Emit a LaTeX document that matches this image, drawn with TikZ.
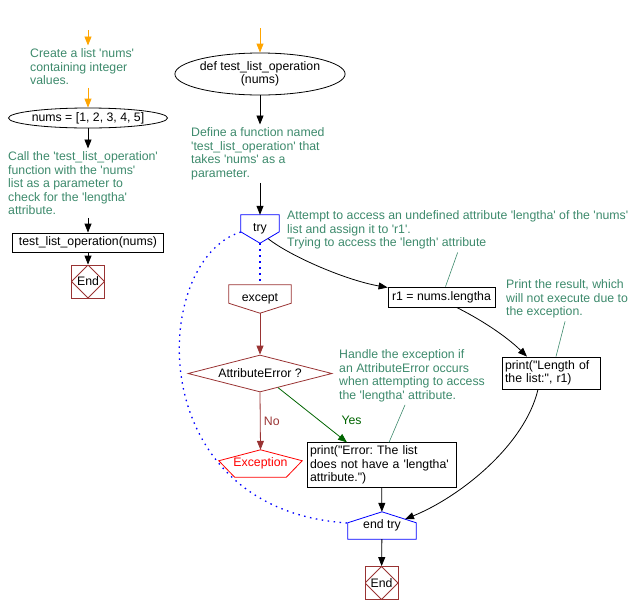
\documentclass[tikz,border=0pt]{standalone}
\usepackage{fontspec}
\setmainfont{Liberation Sans}[Ligatures=TeXOff]
\usepackage{xcolor}
\usepackage{tikz}
\usetikzlibrary{arrows.meta,shapes.geometric,calc}

\definecolor{notegreen}{RGB}{61,138,108}
\definecolor{darkred}{RGB}{153,51,51}
\definecolor{yesgreen}{RGB}{0,100,0}
\definecolor{startorange}{RGB}{255,165,0}
\definecolor{trublue}{RGB}{0,0,255}
\frenchspacing

\begin{document}
\begin{tikzpicture}[
    x=1pt, y=-1pt,
    every node/.style={font=\fontsize{12.3}{13.5}\selectfont},
    note/.style={text=notegreen, align=left, anchor=north west, inner sep=3pt},
    box/.style={draw, line width=0.8pt, align=left, inner sep=3pt},
    oval/.style={draw, ellipse, line width=0.8pt, inner sep=0pt, align=center},
    cond/.style={draw=darkred, line width=0.8pt, diamond, aspect=4, inner sep=1pt, minimum width=144pt, minimum height=37pt},
    endbox/.style={draw=darkred, line width=0.8pt, minimum size=33pt, inner sep=0pt,
        path picture={\draw[darkred, line width=0.8pt] (path picture bounding box.north) -- (path picture bounding box.east)
            -- (path picture bounding box.south) -- (path picture bounding box.west) -- cycle;}},
    pent/.style={inner sep=0pt},
    arr/.style={-{Triangle[length=9pt,width=7pt]}, line width=0.8pt},
    orarr/.style={arr, draw=startorange, fill=startorange},
    redarr/.style={arr, draw=darkred},
    yesarr/.style={arr, draw=yesgreen},
    dotflow/.style={draw=trublue, line width=1.3pt, dash pattern=on 1.5pt off 4.5pt},
    leader/.style={draw=notegreen, line width=0.6pt}
]
    \useasboundingbox (0,0) rectangle (638,614);

    % main program (left)
    \coordinate (lstart) at (88,30);
    \node[note] (lnote1) at (27,45.5) {Create a list 'nums'\\containing integer\\values.};
    \node[oval, minimum width=128pt, minimum height=20pt] (nums) at (88,118) {nums = [1, 2, 3, 4, 5]};
    \node[note] (lnote2) at (5,148.5) {Call the 'test\_list\_operation'\\function with the 'nums'\\list as a parameter to\\check for the 'lengtha'\\attribute.};
    \node[box, minimum width=151pt, minimum height=19pt, align=center] (call) at (88,242.5) {test\_list\_operation(nums)};
    \node[endbox] (lend) at (88,281.5) {End};

    \draw[orarr] (lstart) -- (lstart |- lnote1.north);
    \draw[orarr] (lstart |- lnote1.south) -- (nums);
    \draw[arr] (nums) -- (nums |- lnote2.north);
    \draw[arr] (nums |- lnote2.south) -- (call);
    \draw[arr] (call) -- (lend);

    % the function
    \coordinate (mstart) at (260,28);
    \node[oval, minimum width=144pt, minimum height=42pt] (def) at (260,74) {def test\_list\_operation\\(nums)};
    \node[note] (mnote) at (188,124.5) {Define a function named\\'test\_list\_operation' that\\takes 'nums' as a\\parameter.};

    % try / except blocks
    \node[pent, minimum width=38pt, minimum height=28pt] (try) at (260,229) {try};
    \draw[trublue, line width=0.8pt] (try.north west) -- (try.north east) -- ($(try.north east)!0.6!(try.south east)$)
        -- (try.south) -- ($(try.north west)!0.6!(try.south west)$) -- cycle;
    \node[note] (anote) at (284,207.5) {Attempt to access an undefined attribute 'lengtha' of the 'nums'\\list and assign it to 'r1'.\\Trying to access the 'length' attribute};
    \node[box, minimum width=107pt, minimum height=20pt] (r1) at (441.5,297) {r1 = nums.lengtha};
    \node[note] (pnote) at (503,276.5) {Print the result, which\\will not execute due to\\the exception.};
    \node[box, text width=92pt, minimum height=32pt] (print2) at (551,373) {print("Length of\\the list:", r1)};

    \node[pent, minimum width=62pt, minimum height=28pt] (except) at (260,299) {except};
    \draw[darkred, line width=0.8pt] (except.north west) -- (except.north east) -- ($(except.north east)!0.65!(except.south east)$)
        -- (except.south) -- ($(except.north west)!0.65!(except.south west)$) -- cycle;
    \node[cond] (attr) at (260,373.5) {AttributeError ?};
    \node[pent, minimum width=83pt, minimum height=27pt, text=red] (exc) at (260.5,463.5) {Exception};
    \draw[red, line width=0.8pt] (exc.north) -- ($(exc.north east)!0.4!(exc.south east)$) -- ($(exc.south east)!0.19!(exc.south west)$)
        -- ($(exc.south west)!0.19!(exc.south east)$) -- ($(exc.north west)!0.4!(exc.south west)$) -- cycle;
    \node[note] (hnote) at (336,346.5) {Handle the exception if\\an AttributeError occurs\\when attempting to access\\the 'lengtha' attribute.};
    \node[box, text width=143pt, minimum height=44pt] (print1) at (381.5,465) {print("Error: The list\\does not have a 'lengtha'\\attribute.")};

    \node[pent, minimum width=68pt, minimum height=27pt] (endtry) at (382,525.5) {\raisebox{-2.5pt}{end try}};
    \draw[trublue, line width=0.8pt] (endtry.north) -- ($(endtry.south east)!0.6!(endtry.north east)$) -- (endtry.south east)
        -- (endtry.south west) -- ($(endtry.south west)!0.6!(endtry.north west)$) -- cycle;
    \node[endbox] (rend) at (381.5,583) {End};

    % flow
    \draw[orarr] (mstart) -- (def);
    \draw[arr] (def) -- (def |- mnote.north);
    \draw[arr] (def |- mnote.south) -- (try.north);
    \draw[arr] ([xshift=8pt,yshift=4.6pt]try.south) .. controls (290,256) and (345,280) .. (r1.170);
    \draw[arr] ([xshift=15pt]r1.south) .. controls (478,318) and (505,335) .. ([xshift=-24pt]print2.north);
    \draw[arr] ([xshift=-13pt]print2.south) .. controls (525,445) and (460,497) .. ([xshift=23pt,yshift=-7.4pt]endtry.north);
    \draw[dotflow] (try.south) -- (except.north);
    \draw[dotflow] ([yshift=-3pt]try.west) .. controls (150,260) and (140,510) .. ([yshift=2.5pt]endtry.west);
    \draw[redarr] (except.south) -- (attr.north);
    \draw[redarr] (attr.south) -- node[right, text=darkred] {No} (exc.north);
    \draw[yesarr] ($(attr.south)!0.25!(attr.east)$) -- node[near end, above right, xshift=8pt, text=yesgreen] {Yes} ([xshift=-34.5pt]print1.north);
    \draw[arr] (print1) -- (endtry);
    \draw[arr] (endtry) -- (rend);

    % comment leaders
    \draw[leader] (anote.south) -- ([xshift=4pt]r1.north);
    \draw[leader] ([xshift=-7pt]hnote.south) -- ([xshift=7.5pt]print1.north);
    \draw[leader] ([xshift=-2pt]pnote.south) -- ([xshift=5pt]print2.north);
\end{tikzpicture}
\end{document}
